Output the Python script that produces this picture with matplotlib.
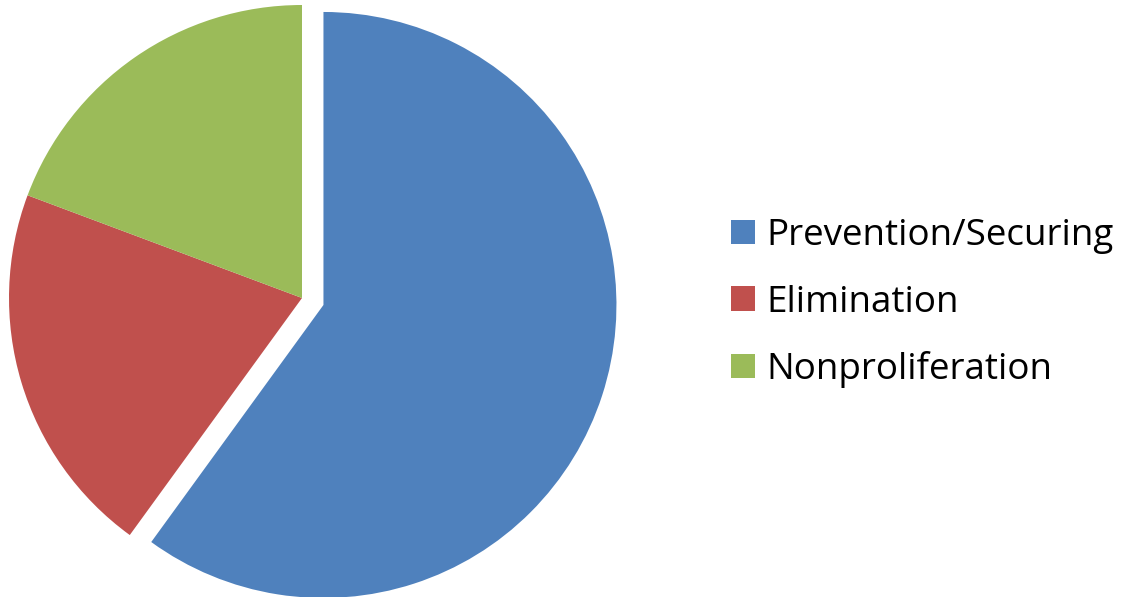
import matplotlib
matplotlib.use("Agg")
import matplotlib.pyplot as plt
from matplotlib.patches import Patch

labels = ["Prevention/Securing", "Elimination", "Nonproliferation"]
shares = [60, 20.7, 19.3]
colors = ["#4F81BD", "#C0504D", "#9BBB59"]
explode = [0.077, 0, 0]

W, H = 1125, 597
fig = plt.figure(figsize=(W / 100, H / 100), dpi=100)

# pie centre (302, 298) px, radius 293 px
r = 293.0
cx, cy = 302.0, H - 298.0
xl, yl = 1.2, 1.2
ax = fig.add_axes([(cx - xl * r) / W, (cy - yl * r) / H, 2 * xl * r / W, 2 * yl * r / H])
ax.pie(shares, colors=colors, explode=explode, startangle=90, counterclock=False,
       radius=1.0, wedgeprops=dict(linewidth=0))
ax.set_xlim(-xl, xl)
ax.set_ylim(-yl, yl)
ax.set_aspect("auto")
ax.axis("off")

handles = [Patch(facecolor=c, edgecolor="none") for c in colors]
fig.legend(handles, labels, loc="center left", bbox_to_anchor=(698 / W, 1 - 303 / H),
           frameon=False, handlelength=0.64, handleheight=0.64,
           handletextpad=0.32, labelspacing=0.83, prop={"family": "Open Sans", "size": 26.5})

fig.savefig("out.png", dpi=100)
